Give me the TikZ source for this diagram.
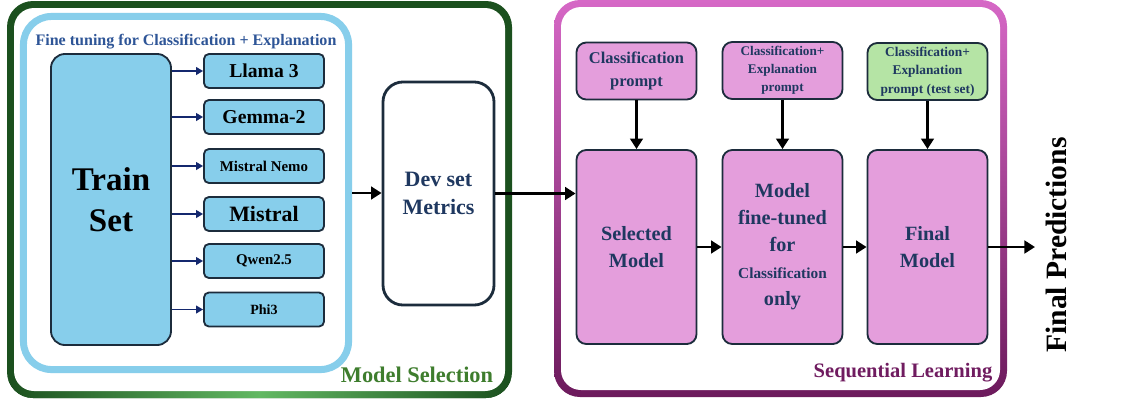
\documentclass[tikz,border=0pt]{standalone}
\usepackage{fontspec}
\setmainfont{Liberation Serif}
\usetikzlibrary{arrows.meta}

\definecolor{skyfill}{RGB}{135,206,235}
\definecolor{boxline}{RGB}{28,44,60}
\definecolor{navytext}{RGB}{31,56,96}
\definecolor{titleblue}{RGB}{46,85,151}
\definecolor{pinkfill}{RGB}{228,158,220}
\definecolor{greenfill}{RGB}{181,228,165}
\definecolor{darkgreen}{RGB}{27,80,30}
\definecolor{lightgreen}{RGB}{98,184,98}
\definecolor{labelgreen}{RGB}{62,125,45}
\definecolor{toppink}{RGB}{214,104,198}
\definecolor{botpurple}{RGB}{108,26,92}
\definecolor{labelpurple}{RGB}{112,28,96}
\definecolor{arrownavy}{RGB}{20,40,110}

\newcommand{\fsz}[2]{\fontsize{#1}{#2}\selectfont}

\tikzset{
  llmbox/.style={draw=boxline, line width=1.3pt, fill=skyfill, rounded corners=3.5pt,
    minimum width=3cm, minimum height=0.85cm, inner sep=0pt, align=center},
  stagebox/.style={draw=boxline, line width=1.3pt, fill=pinkfill, rounded corners=7pt,
    minimum width=3cm, minimum height=4.85cm, inner sep=0pt, align=center, text=navytext},
  promptbox/.style={stagebox, minimum height=1.425cm},
  flow/.style={-{Triangle[length=7.5pt,width=9pt]}, line width=2pt},
  feed/.style={-{Triangle[length=5pt,width=5.5pt]}, line width=1.2pt, arrownavy},
}

\begin{document}
\begin{tikzpicture}[x=0.025cm,y=-0.025cm]
\useasboundingbox (0,0) rectangle (1123,403);

\fill[darkgreen, rounded corners=0.65cm] (7,1) rectangle (512,398);
\begin{scope}
\clip[rounded corners=0.65cm] (7,1) rectangle (512,398);
\shade[left color=darkgreen, right color=darkgreen, middle color=lightgreen] (7,380) rectangle (512,398);
\end{scope}
\fill[white, rounded corners=0.5cm] (14,8) rectangle (505,391);

\shade[top color=toppink, bottom color=botpurple, rounded corners=0.65cm] (554,0) rectangle (1007,397);
\fill[white, rounded corners=0.5cm] (561,7) rectangle (1000,390);

\node[draw=skyfill, line width=0.175cm, rounded corners=0.7cm, minimum width=8.125cm, minimum height=8.825cm] (ft) at (186,193) {};
\node[text=titleblue, font=\bfseries\fsz{11.4}{13}] (fttitle) at (186,42) {Fine tuning for Classification + Explanation};

\node[llmbox, rounded corners=10pt, minimum height=7.275cm, font=\bfseries\fsz{23.5}{29}] (train) at (111,199.5) {Train\\Set};
\node[llmbox, font=\bfseries\fsz{14}{17}] (llama) at (264,71) {Llama 3};
\node[llmbox, font=\bfseries\fsz{14}{17}] (gemma) at (264,117) {Gemma-2};
\node[llmbox, font=\bfseries\fsz{10.6}{13}] (nemo) at (264,166) {Mistral Nemo};
\node[llmbox, font=\bfseries\fsz{15.6}{18}] (mistral) at (264,214) {Mistral};
\node[llmbox, font=\bfseries\fsz{10.6}{13}] (qwen) at (264,261) {Qwen2.5};
\node[llmbox, font=\bfseries\fsz{10}{12}] (phi) at (264,309.5) {Phi3};

\node[draw=boxline, line width=2pt, fill=white, rounded corners=0.5cm, minimum width=2.775cm, minimum height=5.575cm,
  align=center, text=navytext, font=\bfseries\fsz{15.6}{20}] (dev) at (438.5,193.5) {Dev set\\Metrics};

\node[text=labelgreen, font=\bfseries\fsz{15.9}{18}] (msel) at (417,375) {Model Selection};
\node[text=labelpurple, font=\bfseries\fsz{14.6}{17}] (seql) at (903,373) {Sequential Learning};

\node[promptbox, font=\bfseries\fsz{11.7}{16.4}] (p1) at (636.5,71) {Classification\\prompt};
\node[promptbox, font=\bfseries\fsz{9.4}{12.8}] (p2) at (782.5,70.5) {Classification+\\Explanation\\prompt};
\node[promptbox, fill=greenfill, font=\bfseries\fsz{9.5}{13}] (p3) at (927.5,71.5) {Classification+\\Explanation\\prompt (test set)};

\node[stagebox, font=\bfseries\fsz{14.4}{19.2}] (sel) at (636.5,247) {Selected\\Model};
\node[stagebox, font=\bfseries\fsz{14.4}{19.2}] (tuned) at (782.5,247) {Model\\fine-tuned\\for\\\fsz{10.9}{19.2}Classification\\\fsz{14.4}{19.2}only};
\node[stagebox, font=\bfseries\fsz{14.4}{19.2}] (fin) at (927.5,247) {Final\\Model};

\node[rotate=90, font=\bfseries\fsz{21}{24}] (fpred) at (1056,245) {Final Predictions};
\coordinate (fout) at (1035,247);

\foreach \m in {llama,gemma,nemo,mistral,qwen,phi}
  \draw[feed] (train.east |- \m.west) -- (\m.west);
\draw[flow] (ft.east) -- (ft.east -| dev.west);
\draw[flow] (dev.east) -- (dev.east -| sel.west);
\foreach \p/\s in {p1/sel,p2/tuned,p3/fin}
  \draw[flow] (\p.south) -- (\s.north);
\draw[flow] (sel) -- (tuned);
\draw[flow] (tuned) -- (fin);
\draw[flow] (fin) -- (fout);
\end{tikzpicture}
\end{document}
